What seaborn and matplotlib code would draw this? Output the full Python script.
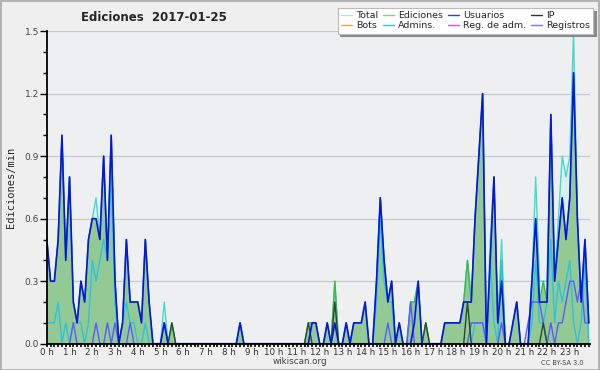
import numpy as np
import pandas as pd
import matplotlib
matplotlib.use("Agg")
import matplotlib.pyplot as plt
from matplotlib.lines import Line2D
from matplotlib.ticker import MultipleLocator, FixedLocator
import seaborn as sns

# ---- data (edits per minute, 10-minute bins, 24 h) ----
total = [
    0.5, 0.3, 0.3, 0.5, 1.0, 0.4,
    0.8, 0.2, 0.1, 0.3, 0.2, 0.5,
    0.6, 0.7, 0.5, 0.9, 0.4, 1.0,
    0.3, 0.0, 0.1, 0.5, 0.2, 0.2,
    0.2, 0.1, 0.5, 0.2, 0.0, 0.0,
    0.0, 0.2, 0.0, 0.1, 0.0, 0.0,
    0, 0, 0, 0, 0, 0,
    0, 0, 0, 0, 0, 0,
    0, 0, 0, 0.1, 0, 0,
    0, 0, 0, 0, 0, 0,
    0, 0, 0, 0, 0, 0,
    0, 0, 0, 0.1, 0.1, 0.1,
    0, 0, 0.1, 0, 0.3, 0,
    0, 0.1, 0, 0.1, 0.1, 0.1,
    0.2, 0, 0, 0.3, 0.7, 0.4,
    0.2, 0.3, 0, 0.1, 0, 0,
    0.2, 0.2, 0.3, 0, 0.1, 0,
    0, 0, 0, 0.1, 0.1, 0.1,
    0.1, 0.1, 0.2, 0.4, 0.2, 0.6,
    0.9, 1.2, 0.0, 0.5, 0.8, 0.1,
    0.5, 0, 0, 0.1, 0.2, 0,
    0, 0, 0.3, 0.8, 0.3, 0.3,
    0.3, 1.1, 0.3, 0.6, 0.9, 0.8,
    0.9, 1.5, 0.6, 0.2, 0.5, 0.1,
]
ediciones = [
    0.5, 0.3, 0.3, 0.5, 1.0, 0.4,
    0.8, 0.2, 0.1, 0.3, 0.2, 0.5,
    0.6, 0.6, 0.5, 0.9, 0.4, 1.0,
    0.3, 0.0, 0.1, 0.5, 0.2, 0.2,
    0.2, 0.1, 0.5, 0.2, 0.0, 0.0,
    0.0, 0.1, 0.0, 0.1, 0.0, 0.0,
    0, 0, 0, 0, 0, 0,
    0, 0, 0, 0, 0, 0,
    0, 0, 0, 0.1, 0, 0,
    0, 0, 0, 0, 0, 0,
    0, 0, 0, 0, 0, 0,
    0, 0, 0, 0.1, 0.1, 0.1,
    0, 0, 0.1, 0, 0.3, 0,
    0, 0.1, 0, 0.1, 0.1, 0.1,
    0.2, 0, 0, 0.3, 0.7, 0.4,
    0.2, 0.3, 0, 0.1, 0, 0,
    0.2, 0.2, 0.3, 0, 0.1, 0,
    0, 0, 0, 0.1, 0.1, 0.1,
    0.1, 0.1, 0.2, 0.4, 0.2, 0.6,
    0.9, 1.2, 0.0, 0.4, 0.8, 0.1,
    0.4, 0, 0, 0.1, 0.2, 0,
    0, 0, 0.3, 0.6, 0.2, 0.3,
    0.2, 1.1, 0.3, 0.5, 0.7, 0.5,
    0.7, 1.3, 0.6, 0.2, 0.5, 0.1,
]
usuarios = [
    0.5, 0.3, 0.3, 0.5, 1.0, 0.4,
    0.8, 0.2, 0.1, 0.3, 0.2, 0.5,
    0.6, 0.6, 0.5, 0.9, 0.4, 1.0,
    0.3, 0.0, 0.1, 0.5, 0.2, 0.2,
    0.2, 0.1, 0.5, 0.2, 0.0, 0.0,
    0.0, 0.1, 0.0, 0.0, 0.0, 0.0,
    0, 0, 0, 0, 0, 0,
    0, 0, 0, 0, 0, 0,
    0, 0, 0, 0.1, 0, 0,
    0, 0, 0, 0, 0, 0,
    0, 0, 0, 0, 0, 0,
    0, 0, 0, 0, 0.1, 0.1,
    0, 0, 0.1, 0, 0.1, 0,
    0, 0.1, 0, 0.1, 0.1, 0.1,
    0.2, 0, 0, 0.3, 0.7, 0.4,
    0.2, 0.3, 0, 0.1, 0, 0,
    0, 0.1, 0.3, 0, 0, 0,
    0, 0, 0, 0.1, 0.1, 0.1,
    0.1, 0.1, 0.2, 0.2, 0.2, 0.6,
    0.9, 1.2, 0.0, 0.4, 0.8, 0.1,
    0.3, 0, 0, 0.1, 0.2, 0,
    0, 0, 0.3, 0.6, 0.2, 0.2,
    0.2, 1.1, 0.3, 0.5, 0.7, 0.5,
    0.7, 1.3, 0.6, 0.2, 0.5, 0.1,
]
ip = [0.0] * 144
for _i, _v in [(33, 0.1), (69, 0.1), (76, 0.2), (100, 0.1), (111, 0.2), (131, 0.1)]:
    ip[_i] = _v
admins = [
    0.1, 0.1, 0.1, 0.2, 0.0, 0.1,
    0.0, 0.1, 0.1, 0.1, 0.0, 0.1,
    0.4, 0.3, 0.4, 0.5, 0.4, 0.8,
    0.2, 0.0, 0.1, 0.2, 0.1, 0.1,
    0.0, 0.0, 0.1, 0.0, 0.0, 0.0,
    0, 0, 0, 0, 0, 0,
    0, 0, 0, 0, 0, 0,
    0, 0, 0, 0, 0, 0,
    0, 0, 0, 0, 0, 0,
    0, 0, 0, 0, 0, 0,
    0, 0, 0, 0, 0, 0,
    0, 0, 0, 0, 0, 0,
    0, 0, 0, 0, 0, 0,
    0, 0, 0, 0, 0, 0,
    0, 0, 0, 0.2, 0.6, 0.3,
    0.2, 0.2, 0, 0, 0, 0,
    0, 0, 0, 0, 0, 0,
    0, 0, 0, 0, 0, 0,
    0, 0, 0, 0, 0, 0.1,
    0.1, 0.1, 0.0, 0.4, 0.1, 0.0,
    0.4, 0, 0, 0, 0, 0,
    0, 0, 0.1, 0.4, 0.1, 0.1,
    0.2, 0.5, 0.1, 0.3, 0.2, 0.3,
    0.4, 0.1, 0.0, 0.1, 0.4, 0.0,
]
registros = [0.0] * 144
for _i, _v in [(7, 0.1), (13, 0.1), (16, 0.1), (18, 0.1), (22, 0.1), (31, 0.1),
               (90, 0.1), (96, 0.2), (112, 0.1), (113, 0.1), (114, 0.1), (115, 0.1),
               (120, 0.1), (127, 0.1), (128, 0.2), (129, 0.2), (130, 0.2), (131, 0.1),
               (133, 0.1), (135, 0.1), (136, 0.1), (137, 0.2), (138, 0.3), (139, 0.3),
               (140, 0.2), (141, 0.3), (142, 0.1), (143, 0.1)]:
    registros[_i] = _v
bots = [0.0] * 144
reg_adm = [0.0] * 144

hour_labels = [f"{h} h" for h in range(24)]
y_ticks = [0.0, 0.3, 0.6, 0.9, 1.2, 1.5]

# ---- plot ----
sns.set_style("ticks")
plt.rcParams['font.family'] = ['DejaVu Sans']

fig = plt.figure(figsize=(6, 3.7), dpi=100, facecolor="#efefef")
fig.patches.append(plt.Rectangle((0.001, 0.001), 0.998, 0.997, transform=fig.transFigure,
                                 fill=False, edgecolor="#a8a8a8", lw=1.2))
ax = fig.add_axes([0.078, 0.071, 0.905, 0.845])
ax.set_facecolor("#eeeff1")

t = np.arange(144) / 6.0
df = pd.DataFrame({"t": t, "Total": total, "Ediciones": ediciones, "Usuarios": usuarios,
                   "IP": ip, "Bots": bots, "Admins.": admins, "Reg. de adm.": reg_adm,
                   "Registros": registros})

ax.fill_between(df["t"], df["Total"], color="#d9f1ed", lw=0, zorder=1)
ax.fill_between(df["t"], df["Ediciones"], color="#93c993", lw=0, zorder=2)

styles = [
    ("Bots", "#f0a040", 1.0, 3),
    ("Reg. de adm.", "#d050e0", 1.0, 3),
    ("Total", "#48d8cc", 1.0, 4),
    ("Ediciones", "#3cb84a", 1.0, 5),
    ("Admins.", "#2cc4dc", 1.0, 6),
    ("Registros", "#5a5aff", 1.0, 7),
    ("IP", "#2a4a30", 1.0, 8),
    ("Usuarios", "#0a14e0", 1.2, 9),
]
for name, color, lw, z in styles:
    sns.lineplot(data=df, x="t", y=name, ax=ax, color=color, lw=lw, zorder=z, legend=False)

ax.set_xlim(0, 23.88)
ax.set_ylim(0, 1.5)
ax.xaxis.set_major_locator(FixedLocator(list(range(24))))
ax.set_xticklabels(hour_labels)
ax.xaxis.set_minor_locator(MultipleLocator(1 / 6))
ax.yaxis.set_major_locator(FixedLocator(y_ticks))
ax.set_yticklabels([f"{v:.1f}" for v in y_ticks])
ax.yaxis.set_minor_locator(MultipleLocator(0.1))
ax.tick_params(axis="x", which="major", length=2.5, width=1.2, color="black",
               labelsize=6.3, labelcolor="#333333", pad=0.5)
ax.tick_params(axis="x", which="minor", length=2.5, width=1.2, color="black")
ax.tick_params(axis="y", which="major", length=5, width=1, color="black",
               labelsize=6.5, labelcolor="#444444", pad=0.5)
ax.tick_params(axis="y", which="minor", length=3, width=1, color="black")
ax.grid(axis="y", which="major", color="#c8c8c8", lw=0.9)
ax.set_axisbelow(True)
for s in ["top", "right"]:
    ax.spines[s].set_visible(False)
for s in ["left", "bottom"]:
    ax.spines[s].set_color("black")
    ax.spines[s].set_linewidth(1.3)
    ax.spines[s].set_zorder(20)

ax.set_xlabel("")
ax.set_ylabel("Ediciones/min", family="DejaVu Sans Mono", fontsize=7.5, labelpad=6)
fig.text(0.257, 0.953, "Ediciones  2017-01-25", fontsize=8.5, fontweight="bold",
         ha="center", va="center")
fig.text(0.5, 0.022, "wikiscan.org", fontsize=6.3, color="#444444", ha="center", va="center")
fig.text(0.937, 0.02, "CC BY-SA 3.0", fontsize=4.8, color="#444444", ha="center", va="center")

order = ["Total", "Bots", "Ediciones", "Admins.", "Usuarios", "Reg. de adm.", "IP", "Registros"]
cmap = {n: c for n, c, _, _ in styles}
cmap["Total"] = "#b0e4e4"
cmap["Ediciones"] = "#88cc88"
cmap["Usuarios"] = "#3a3ae8"
cmap["IP"] = "#303030"
cmap["Registros"] = "#7a7af0"
handles = [Line2D([0], [0], color=cmap[n], lw=1) for n in order]
leg = ax.legend(handles, order, ncol=4, loc="upper right", bbox_to_anchor=(1.006, 1.074),
                fontsize=6.8, frameon=True, fancybox=False, shadow={"color": "#8a8a8a", "alpha": 1},
                handlelength=1.2, handletextpad=0.4, columnspacing=0.5, labelspacing=0.12,
                borderpad=0.35, borderaxespad=0.0)
leg.get_frame().set_edgecolor("#bbbbbb")
leg.get_frame().set_linewidth(0.8)
leg.set_zorder(30)

fig.savefig("out.png", dpi=100, facecolor=fig.get_facecolor())
